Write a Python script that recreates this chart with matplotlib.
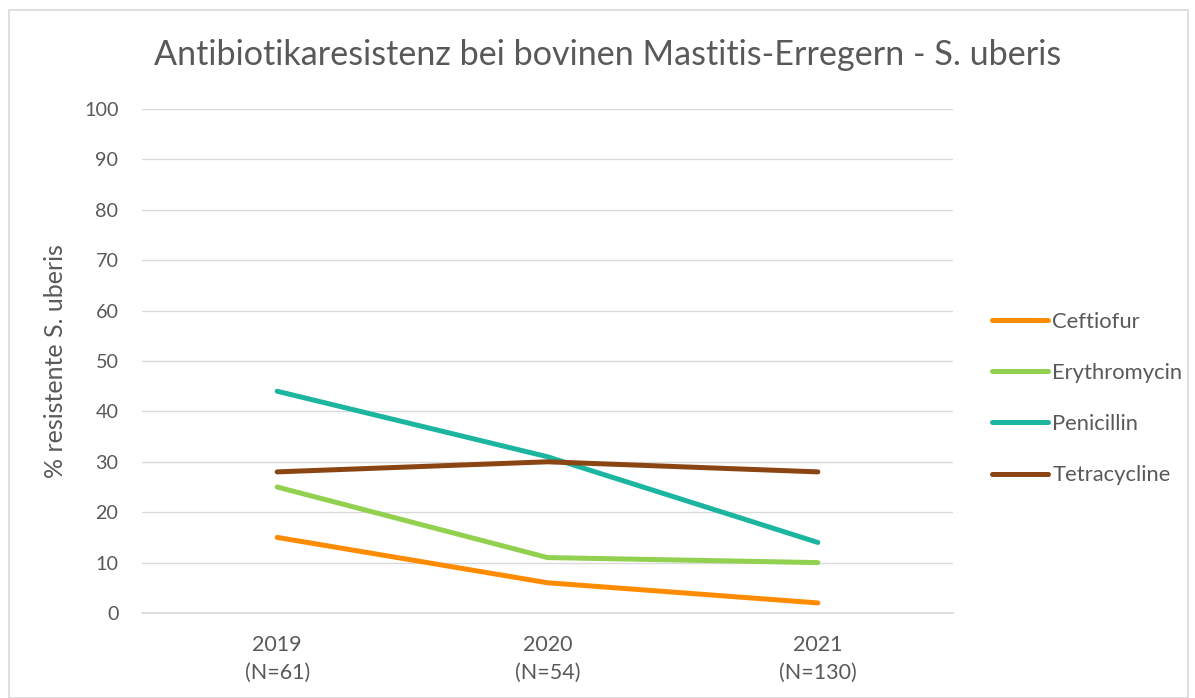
import matplotlib.pyplot as plt
from matplotlib.patches import Rectangle

years = ["2019\n(N=61)", "2020\n(N=54)", "2021\n(N=130)"]
ceftiofur = [15, 6, 2]
erythromycin = [25, 11, 10]
penicillin = [44, 31, 14]
tetracycline = [28, 30, 28]

plt.rcParams['font.family'] = ['Lato', 'DejaVu Sans']
txt = "#595959"

fig = plt.figure(figsize=(11.95, 6.98), dpi=100)
ax = fig.add_axes([142/1195, 1-613/698, (953-142)/1195, (613-109)/698])

x = list(range(len(years)))
ax.plot(x, ceftiofur, color="#FF8C00", lw=3.6, label="Ceftiofur", solid_capstyle="round")
ax.plot(x, erythromycin, color="#92D050", lw=3.6, label="Erythromycin", solid_capstyle="round")
ax.plot(x, penicillin, color="#1CB5A0", lw=3.6, label="Penicillin", solid_capstyle="round")
ax.plot(x, tetracycline, color="#8B4513", lw=3.6, label="Tetracycline", solid_capstyle="round")

ax.set_xlim(-0.5, 2.5)
ax.set_ylim(0, 100)
ax.set_yticks(range(0, 101, 10))
ax.set_xticks(x)
ax.set_xticklabels(years, color=txt, fontsize=15.5, linespacing=1.5)
ax.tick_params(axis='y', colors=txt, labelsize=14.2, length=0, pad=17)
ax.tick_params(axis='x', length=0, pad=16)
ax.grid(axis='y', color="#d9d9d9", lw=1)
ax.set_axisbelow(True)
for s in ["top", "right", "left"]:
    ax.spines[s].set_visible(False)
ax.spines["bottom"].set_color("#d9d9d9")
ax.spines["bottom"].set_linewidth(1.2)

ax.set_ylabel("% resistente S. uberis", color=txt, fontsize=18, labelpad=12)
fig.text(608/1195, 1-55/698, "Antibiotikaresistenz bei bovinen Mastitis-Erregern - S. uberis",
         ha="center", va="center", fontsize=24.6, color=txt)

ax.legend(loc="center left", bbox_to_anchor=(1.037, 0.4256), frameon=False,
          borderaxespad=0, fontsize=15.8, labelcolor=txt, handlelength=2.55,
          handletextpad=0.2, labelspacing=1.42)

fig.patches.append(Rectangle((9/1195, 0), (1188-9)/1195, 1-10/698, transform=fig.transFigure,
                             fill=False, edgecolor="#d9d9d9", lw=1.2))

plt.savefig("out.png", dpi=100)
